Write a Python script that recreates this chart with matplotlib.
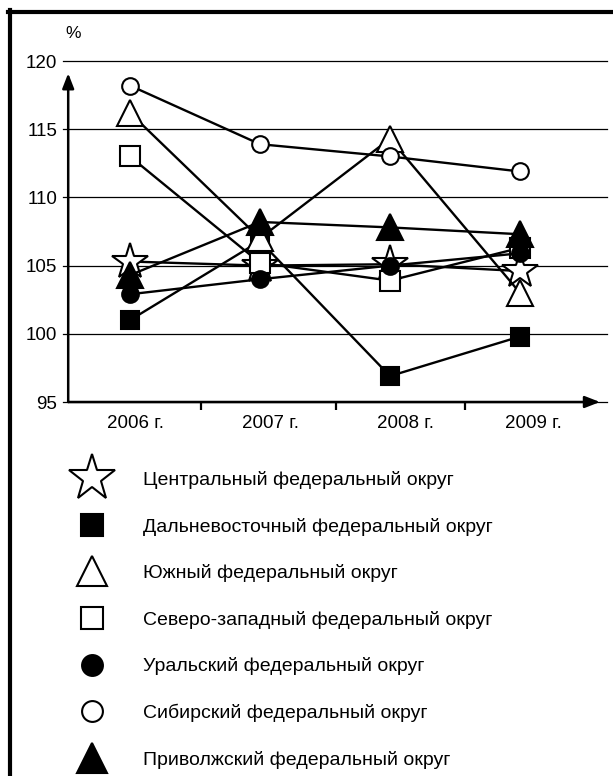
import matplotlib
matplotlib.use("Agg")
import matplotlib.pyplot as plt
from matplotlib.lines import Line2D

plt.rcParams['font.family'] = ['Liberation Sans', 'DejaVu Sans']

# data (%)
years = ["2006 г.", "2007 г.", "2008 г.", "2009 г."]
central = [105.3, 105.0, 105.1, 104.6]
far_east = [101.0, 106.8, 96.9, 99.8]
south = [116.2, 107.0, 114.3, 103.0]
north_west = [113.0, 105.2, 103.9, 106.3]
ural = [102.9, 104.0, 105.0, 105.9]
siberia = [118.2, 113.9, 113.0, 111.9]
volga = [104.3, 108.2, 107.8, 107.3]

names = ["Центральный федеральный округ",
         "Дальневосточный федеральный округ",
         "Южный федеральный округ",
         "Северо-западный федеральный округ",
         "Уральский федеральный округ",
         "Сибирский федеральный округ",
         "Приволжский федеральный округ"]
series = [central, far_east, south, north_west, ural, siberia, volga]

# marker style: (marker, facecolor, size in chart, size in legend)
styles = [("*", "white", 27, 35),
          ("s", "black", 13, 16),
          ("^", "white", 19, 22),
          ("s", "white", 14, 16),
          ("o", "black", 12, 15),
          ("o", "white", 12, 15),
          ("^", "black", 19, 22)]

W, H = 613, 776
fig = plt.figure(figsize=(W / 100, H / 100), dpi=100)
ax = fig.add_axes([63 / W, 1 - 402 / H, (607 - 63) / W, (402 - 61) / H])

x = list(range(len(years)))
ax.set_xlim(-0.515, 3.669)
ax.set_ylim(95, 120)

ax.set_yticks([95, 100, 105, 110, 115, 120])
ax.yaxis.grid(True, color="black", lw=0.9)
for g in ax.get_ygridlines():
    g.set_clip_on(False)
ax.set_axisbelow(True)
ax.tick_params(axis="y", length=0, pad=4, labelsize=13.5)

# year labels sit a bit right of the points, centred between the ticks
ax.set_xticks([0.04, 1.08, 2.12, 3.1])
ax.set_xticklabels(years)
ax.set_xticks([0.55, 1.585, 2.58], minor=True)
ax.tick_params(axis="x", which="major", length=0, pad=9, labelsize=13.5)
ax.tick_params(axis="x", which="minor", length=6, width=1.6, direction="out")
for s in ax.spines.values():
    s.set_visible(False)

for vals, (m, fc, ms, _) in zip(series, styles):
    ax.plot(x, vals, color="black", lw=1.7, marker=m, ms=ms,
            mfc=fc, mec="black", mew=1.5, clip_on=False, zorder=3)

# axes with arrows
ax.annotate("", xy=(-0.475, 119.1), xytext=(-0.475, 95), xycoords="data",
            arrowprops=dict(arrowstyle="-|>,head_length=0.9,head_width=0.35",
                            color="black", lw=1.8, shrinkA=0, shrinkB=0),
            annotation_clip=False)
ax.annotate("", xy=(3.615, 95), xytext=(-0.475, 95), xycoords="data",
            arrowprops=dict(arrowstyle="-|>,head_length=0.9,head_width=0.35",
                            color="black", lw=1.8, shrinkA=0, shrinkB=0),
            annotation_clip=False)

fig.text(73 / W, 1 - 33 / H, "%", ha="center", va="center", fontsize=12.5)

# legend
handles = [Line2D([], [], ls="none", marker=m, ms=lms, mfc=fc, mec="black", mew=1.5)
           for (m, fc, _, lms) in styles]
fig.legend(handles, names, loc="upper left", bbox_to_anchor=(72.6 / W, 1 - 471 / H),
           frameon=False, fontsize=14, labelspacing=1.47, handlelength=2.0,
           handletextpad=1.62, borderpad=0, borderaxespad=0)

# page frame (top and left edges)
fig.add_artist(Line2D([8 / W, 1], [1 - 11.5 / H] * 2, color="black", lw=3))
fig.add_artist(Line2D([10 / W] * 2, [0, 1 - 10 / H], color="black", lw=3))

fig.savefig("out.png", dpi=100)
